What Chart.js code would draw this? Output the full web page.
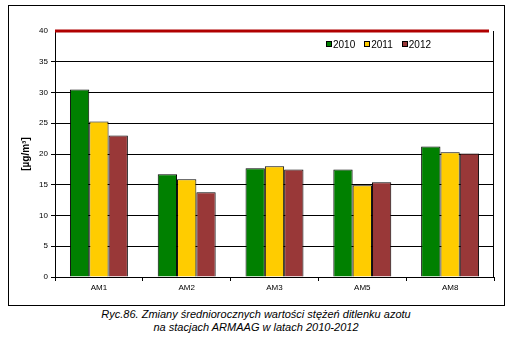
<!DOCTYPE html>
<html>
<head>
<meta charset="utf-8">
<script src="https://cdn.jsdelivr.net/npm/chart.js@4.4.0/dist/chart.umd.min.js"></script>
<style>
  body { margin: 0; background: #fff; font-family: "Liberation Sans", Arial, sans-serif; }
  #box { position: absolute; left: 8px; top: 5px; width: 495px; height: 299px; border: 1px solid #000; }
  #legend { position: absolute; left: 326px; top: 39px; font-size: 10px; line-height: 12px; color: #000; white-space: nowrap; }
  #legend span.item { margin-right: 9px; }
  #legend span.sw { display: inline-block; width: 4px; height: 4px; border: 1px solid #000; margin-right: 1px; vertical-align: 1px; }
  #caption { position: absolute; left: 0; top: 308px; width: 512px; text-align: center;
             font-style: italic; font-size: 11px; line-height: 13px; color: #000; }
</style>
</head>
<body>
<div id="box"><canvas id="no2_chart" width="495" height="299"></canvas></div>
<div id="legend"></div>
<div id="caption">Ryc.86. Zmiany średniorocznych wartości stężeń ditlenku azotu<br>na stacjach ARMAAG w latach 2010-2012</div>
<script>
var stations = ['AM1', 'AM2', 'AM3', 'AM5', 'AM8'];
var years = ['2010', '2011', '2012'];
var no2_2010 = [30.5, 16.7, 17.7, 17.5, 21.2];
var no2_2011 = [25.3, 15.9, 18.0, 14.9, 20.3];
var no2_2012 = [23.0, 13.8, 17.5, 15.4, 20.1];
var yTicks = [0, 5, 10, 15, 20, 25, 30, 35, 40];
var limitValue = 40;

document.addEventListener('DOMContentLoaded', function () {
    var ctx = document.getElementById('no2_chart');
    var font = "'Liberation Sans', Arial, sans-serif";

    var chart = new Chart(ctx, {
        type: 'bar',
        data: {
            labels: stations,
            datasets: [{
                label: years[0],
                data: no2_2010,
                backgroundColor: '#008000',
                borderColor: '#000000',
                borderWidth: 1
            }, {
                label: years[1],
                data: no2_2011,
                backgroundColor: '#ffcc00',
                borderColor: '#000000',
                borderWidth: 1
            }, {
                label: years[2],
                data: no2_2012,
                backgroundColor: '#993838',
                borderColor: '#000000',
                borderWidth: 1
            }]
        },
        options: {
            responsive: false,
            animation: false,
            layout: { padding: { top: 25, right: 10, left: 0, bottom: 0 } },
            datasets: {
                bar: { barPercentage: 1, categoryPercentage: 0.66 }
            },
            plugins: {
                legend: { display: false },
                tooltip: { enabled: false }
            },
            scales: {
                x: {
                    grid: {
                        display: true,
                        offset: true,
                        drawOnChartArea: false,
                        color: '#000',
                        tickLength: 4
                    },
                    border: { color: '#000' },
                    ticks: { color: '#000', font: { family: font, size: 8 }, padding: 2 },
                    afterFit: function (scale) { scale.height = 28; }
                },
                y: {
                    min: 0,
                    max: 40,
                    afterBuildTicks: function (scale) {
                        scale.ticks = yTicks.map(function (v) { return { value: v }; });
                    },
                    grid: {
                        color: '#000',
                        lineWidth: function (c) { return c.tick && c.tick.value === limitValue ? 0 : 1; },
                        tickLength: 4,
                        tickColor: '#000'
                    },
                    border: { color: '#000' },
                    ticks: { color: '#000', font: { family: font, size: 8 }, padding: 3 },
                    title: {
                        display: true,
                        text: '[µg/m³]',
                        color: '#000',
                        font: { family: font, size: 10, weight: 'bold' },
                        padding: { top: 11, bottom: 0 }
                    },
                    afterFit: function (scale) { scale.width = 46; }
                }
            }
        },
        plugins: [{
            id: 'limitLine',
            afterDraw: function (chart) {
                var c = chart.ctx, area = chart.chartArea;
                var y = chart.scales.y.getPixelForValue(limitValue);
                c.save();
                // right frame of the plot
                c.strokeStyle = '#000';
                c.lineWidth = 1;
                c.beginPath();
                c.moveTo(area.right - 0.5, y);
                c.lineTo(area.right - 0.5, area.bottom);
                c.stroke();
                // limit value line
                c.strokeStyle = '#b00000';
                c.lineWidth = 3;
                c.beginPath();
                c.moveTo(area.left, y);
                c.lineTo(area.right - 5, y);
                c.stroke();
                c.restore();
            }
        }]
    });

    // html legend built from the chart's own datasets
    var html = '';
    chart.data.datasets.forEach(function (ds) {
        html += '<span class="item"><span class="sw" style="background:' + ds.backgroundColor + '"></span>' + ds.label + '</span>';
    });
    document.getElementById('legend').innerHTML = html;
});
</script>
</body>
</html>
